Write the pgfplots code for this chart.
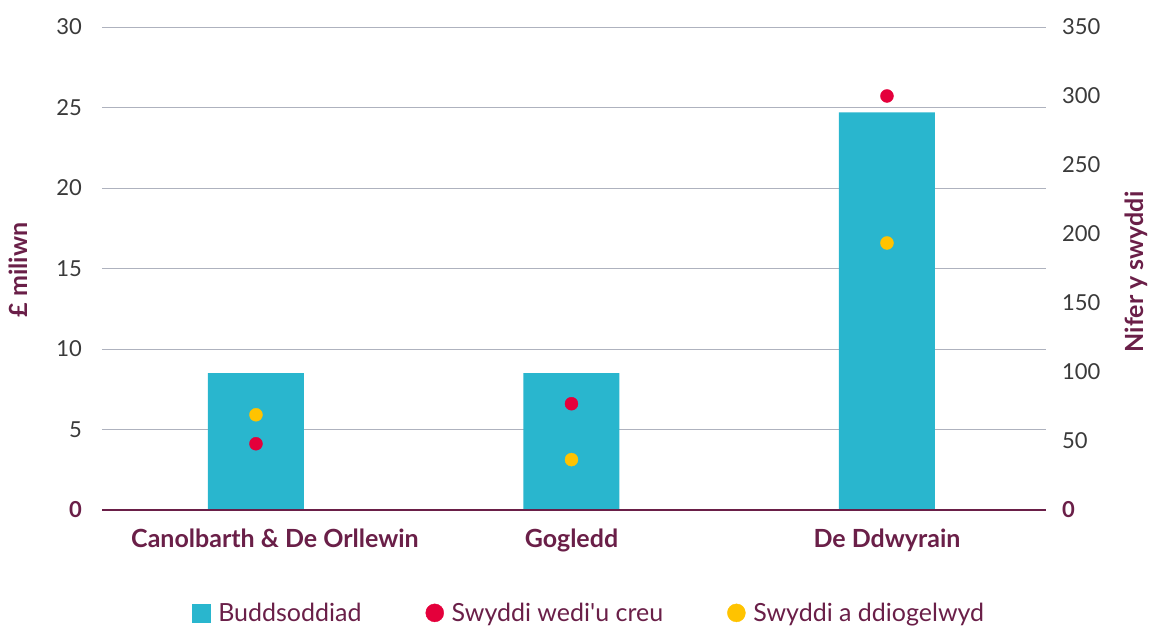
\documentclass[border=0pt]{standalone}
\usepackage{pgfplots}
\pgfplotsset{compat=1.18}
\usepackage{fontspec}
\setmainfont{Lato}[Ligatures=TeXOff]
\definecolor{barc}{HTML}{29B6CE}
\definecolor{redc}{HTML}{E4003B}
\definecolor{yelc}{HTML}{FFC300}
\definecolor{maroon}{HTML}{6A1F48}
\definecolor{gridc}{HTML}{AEB2BE}
\definecolor{tickc}{HTML}{3A3A3A}
\newcommand{\fs}{\fontsize{22}{26}\selectfont}
\newcommand{\fb}{\fontsize{25}{30}\selectfont}
\begin{document}
\begin{tikzpicture}[x=1pt,y=1pt]
\path[use as bounding box] (0,0) rectangle (1152,628);
\begin{axis}[
  at={(102pt,118pt)}, anchor=south west, scale only axis,
  width=944pt, height=483pt,
  xmin=-0.488, xmax=2.504, ymin=0, ymax=30,
  axis x line*=bottom, axis y line*=left,
  x axis line style={draw=none},
  y axis line style={draw=none},
  xtick={0,1,2},
  xticklabels={\hspace*{38pt}Canolbarth \& De Orllewin, Gogledd, De Ddwyrain},
  xticklabel style={font=\fb\bfseries, text=maroon, anchor=base, yshift=-38pt},
  ytick={0,5,...,30},
  yticklabels={{\textcolor{maroon}{\bfseries 0}},5,10,15,20,25,30},
  yticklabel style={font=\fs, text=tickc, anchor=east, inner sep=0pt, xshift=-20pt},
  major tick length=0pt,
  ymajorgrids, grid style={color=gridc, line width=0.9pt},
  ylabel={£ miliwn},
  ylabel style={font=\fb\bfseries, text=maroon, at={(axis description cs:-0.089,0.497)}, anchor=center},
  ybar, bar width=96pt,
]
\addplot[fill=barc, draw=none] coordinates {(0,8.5) (1,8.5) (2,24.7)};
\end{axis}
\begin{axis}[
  at={(102pt,118pt)}, anchor=south west, scale only axis,
  width=944pt, height=483pt,
  xmin=-0.488, xmax=2.504, ymin=0, ymax=350,
  axis x line*=bottom, axis y line*=right,
  x axis line style={draw=maroon, line width=1.3pt, -},
  y axis line style={draw=none},
  xtick=\empty,
  ytick={0,50,...,350},
  yticklabels={{\textcolor{maroon}{\bfseries 0}},50,100,150,200,250,300,350},
  yticklabel style={font=\fs, text=tickc, anchor=west, inner sep=0pt, xshift=16pt},
  major tick length=0pt,
  ylabel={Nifer y swyddi},
  ylabel style={font=\fb\bfseries, text=maroon, at={(axis description cs:1.096,0.493)}, anchor=center},
  legend columns=3,
  legend style={draw=none, fill=none, font=\fb, text=maroon,
    at={(axis description cs:0.516,-0.213)}, anchor=center,
    /tikz/every even column/.append style={column sep=62pt}},
]
\addlegendimage{legend image code/.code={\fill[barc] (0pt,-9pt) rectangle (18pt,9pt); \path[draw=none,fill=none] (0pt,0pt) -- (24pt,0pt);}}
\addlegendentry{Buddsoddiad}
\addplot[only marks, mark=*, mark size=6.5pt, color=redc,
  legend image code/.code={\fill[redc] (9pt,0pt) circle (9pt); \path[draw=none,fill=none] (0pt,0pt) -- (24pt,0pt);}]
  coordinates {(0,48) (1,77) (2,300)};
\addlegendentry{Swyddi wedi'u creu}
\addplot[only marks, mark=*, mark size=6.5pt, color=yelc,
  legend image code/.code={\fill[yelc] (9pt,0pt) circle (9pt); \path[draw=none,fill=none] (0pt,0pt) -- (24pt,0pt);}]
  coordinates {(0,69) (1,36.5) (2,193.5)};
\addlegendentry{Swyddi a ddiogelwyd}
\end{axis}
\end{tikzpicture}
\end{document}
